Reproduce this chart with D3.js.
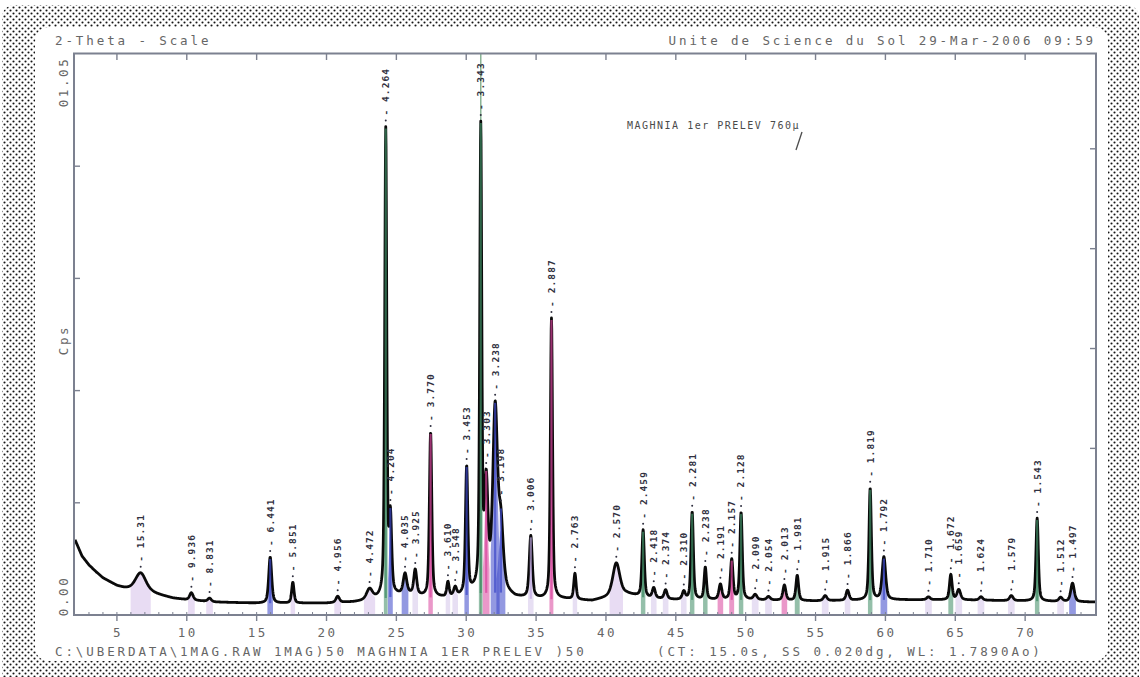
<!DOCTYPE html>
<html>
<head>
<meta charset="utf-8">
<script src="https://cdn.jsdelivr.net/npm/d3@7"></script>
<style>
  html, body { margin: 0; padding: 0; background: #fff; }
  svg { display: block; }
  text { font-family: "DejaVu Sans Mono", "Liberation Mono", monospace; }
</style>
</head>
<body>
<svg id="chart" width="1140" height="677"></svg>
<script>
// Powder XRD scan, Co K-alpha (1.7890 A), 2-theta 2..75 deg, step 0.02 deg.

// Background level (counts) at selected 2-theta positions
const bgTheta  = [2.0, 2.5, 3.0, 3.5, 4.0, 4.5, 5.0, 5.5, 6.0, 7.5, 8.0, 9.0, 10, 12, 15, 20, 22, 23.5, 25, 26, 27, 28.5, 29.5, 30.5, 32.5, 33.5, 35.5, 37, 39, 40, 41.5, 43, 45, 50, 55, 60, 65, 70, 75];
const bgCounts = [134, 105, 89, 77, 66, 59, 52, 48, 45, 39, 36, 30, 27, 23, 21, 21, 23, 27, 34, 36, 32, 30, 32, 39, 40, 30, 28, 28, 25, 30, 37, 30, 27, 27, 25, 27, 27, 25, 23];

// Reflections: position (2-theta), height above background, FWHM, phase, d-spacing label
const peakTheta  = [6.70, 10.33, 11.63, 15.97, 17.59, 20.80, 23.08, 24.24, 24.57, 25.62, 26.35, 27.45, 28.69, 29.21, 30.03, 31.04, 31.43, 32.07, 32.48, 34.62, 36.10, 37.78, 40.74, 42.66, 43.42, 44.27, 45.57, 46.17, 47.11, 48.19, 49.00, 49.67, 50.68, 51.63, 52.77, 53.69, 55.69, 57.29, 58.91, 59.89, 63.08, 64.68, 65.25, 66.84, 69.01, 70.86, 72.54, 73.39];
const peakHeight = [33, 13, 6, 82, 37, 11, 19, 832, 135, 36, 44, 293, 26, 15, 225, 820, 185, 320, 110, 110, 500, 46, 59, 119, 18, 16, 14, 156, 57, 27, 71, 155, 9, 6, 27, 45, 9, 18, 199, 76, 5, 45, 18, 6, 9, 148, 7, 33];
const peakWidth  = [0.9, 0.3, 0.3, 0.25, 0.2, 0.3, 0.5, 0.17, 0.22, 0.3, 0.25, 0.2, 0.2, 0.25, 0.2, 0.17, 0.3, 0.4, 0.4, 0.25, 0.18, 0.2, 0.6, 0.2, 0.25, 0.25, 0.25, 0.2, 0.2, 0.25, 0.22, 0.2, 0.3, 0.3, 0.25, 0.22, 0.3, 0.25, 0.2, 0.3, 0.3, 0.22, 0.3, 0.3, 0.3, 0.2, 0.3, 0.3];
const peakPhase  = ["clay", "clay", "clay", "feldspar", "clay", "clay", "clay", "quartz", "feldspar", "feldspar", "other", "dolomite", "other", "other", "feldspar", "quartz", "dolomite", "feldspar", "feldspar", "other", "dolomite", "other", "clay", "quartz", "other", "other", "other", "quartz", "quartz", "dolomite", "dolomite", "quartz", "other", "other", "dolomite", "quartz", "other", "other", "quartz", "feldspar", "other", "quartz", "other", "other", "other", "quartz", "other", "feldspar"];
const peakLabel  = ["15.31", "9.936", "8.831", "6.441", "5.851", "4.956", "4.472", "4.264", "4.204", "4.035", "3.925", "3.770", "3.610", "3.548", "3.453", "3.343", "3.303", "3.238", "3.198", "3.006", "2.887", "2.763", "2.570", "2.459", "2.418", "2.374", "2.310", "2.281", "2.238", "2.191", "2.157", "2.128", "2.090", "2.054", "2.013", "1.981", "1.915", "1.866", "1.819", "1.792", "1.710", "1.672", "1.659", "1.624", "1.579", "1.543", "1.512", "1.497"];

const phaseNames   = ["quartz", "dolomite", "feldspar", "clay", "other"];
const phaseColors  = ["#3d8a63", "#d9439c", "#3a46c8", "#b48ad8", "#b9a2dc"];
const phaseOpacity = [0.55, 0.55, 0.55, 0.3, 0.35];

const xTickValues     = [5, 10, 15, 20, 25, 30, 35, 40, 45, 50, 55, 60, 65, 70];
const yTickValues     = [200, 400, 600, 800];
const rightTickValues = [297, 475, 653, 831];
const yAxisTop    = "01.05";
const yAxisBottom = "0.00";
const yAxisTitle  = "Cps";

const headerLeft  = "2-Theta - Scale";
const headerRight = "Unite de Science du Sol 29-Mar-2006 09:59";
const sampleNote  = "MAGHNIA 1er PRELEV 760\u00b5";
const footerFile  = "C:\\UBERDATA\\1MAG.RAW 1MAG)50 MAGHNIA 1ER PRELEV )50";
const footerScan  = "(CT: 15.0s, SS 0.020dg, WL: 1.7890Ao)";

const W = 1140, H = 677;
const svg = d3.select("#chart");

// ---------- stippled paper border ----------
const defs = svg.append("defs");
const pat = defs.append("pattern").attr("id", "stipple")
  .attr("width", 6).attr("height", 6).attr("patternUnits", "userSpaceOnUse");
pat.append("circle").attr("cx", 1.5).attr("cy", 1.5).attr("r", 1.05).attr("fill", "#141414");
pat.append("circle").attr("cx", 4.5).attr("cy", 4.5).attr("r", 1.05).attr("fill", "#141414");

function roundRect(x0, y0, x1, y1, r) {
  return `M${x0 + r},${y0}H${x1 - r}Q${x1},${y0} ${x1},${y0 + r}V${y1 - r}Q${x1},${y1} ${x1 - r},${y1}H${x0 + r}Q${x0},${y1} ${x0},${y1 - r}V${y0 + r}Q${x0},${y0} ${x0 + r},${y0}Z`;
}
svg.append("rect").attr("width", W).attr("height", H).attr("fill", "#fff");
svg.append("path")
  .attr("d", roundRect(2, 5, 1139, 690, 14) + roundRect(35, 27, 1108, 661, 16))
  .attr("fill", "url(#stipple)").attr("fill-rule", "evenodd");

// ---------- scales ----------
const x = d3.scaleLinear().domain([2, 75]).range([75, 1095]);
const y = d3.scaleLinear().domain([0, 1000]).range([615, 54]);

const frameColor = "#7c8190";
const textColor = "#666";

// ---------- pattern model ----------
const bg = d3.scaleLinear().domain(bgTheta).range(bgCounts).clamp(true);
const peaks = peakTheta.map((t, i) => ({
  t, h: peakHeight[i], w: peakWidth[i], phase: peakPhase[i], label: peakLabel[i]
}));
function profile(p, t) {
  const u = (t - p.t) / p.w;
  const lor = 1 / (1 + 4 * u * u);
  const gau = Math.exp(-4 * Math.LN2 * u * u);
  return p.h * (0.5 * lor + 0.5 * gau);
}
function countsAt(t) {
  let c = bg(t);
  for (const p of peaks) c += profile(p, t);
  return c;
}
const grid = d3.range(2, 75.0001, 0.02);
const trace = grid.map(t => ({ t, c: countsAt(t) }));

defs.append("clipPath").attr("id", "plotClip")
  .append("rect").attr("x", 75).attr("y", 54).attr("width", 1020).attr("height", 561);

const plot = svg.append("g").attr("clip-path", "url(#plotClip)");
const color = d3.scaleOrdinal().domain(phaseNames).range(phaseColors);
const opacity = d3.scaleOrdinal().domain(phaseNames).range(phaseOpacity);

// phase shading under each reflection
peaks.forEach(p => {
  const span = d3.range(p.t - 0.8 * p.w, p.t + 0.8 * p.w + 1e-9, 0.01);
  const area = d3.area()
    .x(t => x(t))
    .y0(y(0))
    .y1(t => y(bg(t) + profile(p, t)));
  plot.append("path").datum(span).attr("d", area)
    .attr("fill", color(p.phase)).attr("fill-opacity", opacity(p.phase));
});

// strongest quartz reference line to full scale
plot.append("line")
  .attr("x1", x(peakTheta[15])).attr("x2", x(peakTheta[15]))
  .attr("y1", y(0)).attr("y2", y(1000))
  .attr("stroke", "#6aa07a").attr("stroke-width", 1.5).attr("stroke-opacity", 0.8);

// measured trace
const line = d3.line().x(d => x(d.t)).y(d => y(d.c));
plot.append("path").datum(trace).attr("d", line)
  .attr("fill", "none").attr("stroke", "#0a0a0a").attr("stroke-width", 2.8)
  .attr("stroke-linejoin", "round");

// phase sticks over the stronger reflections
peaks.filter(p => p.h > 60).forEach(p => {
  plot.append("line")
    .attr("x1", x(p.t)).attr("x2", x(p.t))
    .attr("y1", y(bg(p.t))).attr("y2", y(countsAt(p.t)) + 2)
    .attr("stroke", color(p.phase)).attr("stroke-width", 2.2).attr("stroke-opacity", 0.7);
});

// ---------- d-spacing labels ----------
const labels = svg.append("g").attr("fill", "#303040")
  .attr("font-size", 9.5).attr("font-weight", "bold").attr("letter-spacing", 1.1);
peaks.forEach(p => {
  const px = x(p.t), py = y(countsAt(p.t));
  labels.append("circle").attr("cx", px).attr("cy", py - 6).attr("r", 1);
  labels.append("text")
    .attr("transform", `translate(${px + 3.4},${py - 11}) rotate(-90)`)
    .text("- " + p.label);
});

// ---------- frame and axes ----------
const axes = svg.append("g").attr("stroke", frameColor).attr("fill", "none");
axes.append("rect").attr("x", 74).attr("y", 53.5).attr("width", 1022).attr("height", 561.5)
  .attr("stroke-width", 2);

// minor 2-theta ticks (1 deg) on the bottom edge
d3.range(3, 75, 1).forEach(t => {
  axes.append("line").attr("x1", x(t)).attr("x2", x(t))
    .attr("y1", y(0)).attr("y2", y(0) - 3).attr("stroke-width", 1);
});
// major ticks bottom (outward) and top (inward)
xTickValues.forEach(t => {
  axes.append("line").attr("x1", x(t)).attr("x2", x(t))
    .attr("y1", y(0)).attr("y2", y(0) + 6).attr("stroke-width", 1.4);
  axes.append("line").attr("x1", x(t)).attr("x2", x(t))
    .attr("y1", 54).attr("y2", 60).attr("stroke-width", 1.4);
});
yTickValues.forEach(v => {
  axes.append("line").attr("x1", 74).attr("x2", 80)
    .attr("y1", y(v)).attr("y2", y(v)).attr("stroke-width", 1.4);
});
rightTickValues.forEach(v => {
  axes.append("line").attr("x1", 1096).attr("x2", 1090)
    .attr("y1", y(v)).attr("y2", y(v)).attr("stroke-width", 1.4);
});

// tick labels
const txt = svg.append("g").attr("fill", textColor).attr("font-size", 12.5).attr("letter-spacing", 2.4);
xTickValues.forEach(t => {
  txt.append("text").attr("x", x(t) + 1).attr("y", 637).attr("text-anchor", "middle").text(t);
});

// rotated y-axis texts
const yTxt = svg.append("g").attr("fill", textColor).attr("font-size", 12.5).attr("letter-spacing", 2.6);
[[yAxisTop, 82], [yAxisTitle, 340], [yAxisBottom, 596]].forEach(([s, cy]) => {
  yTxt.append("text")
    .attr("transform", `translate(68,${cy}) rotate(-90)`)
    .attr("text-anchor", "middle").text(s);
});

// header and footer lines
const hdr = svg.append("g").attr("fill", textColor).attr("font-size", 12.5).attr("letter-spacing", 2.9);
hdr.append("text").attr("x", 55).attr("y", 45).text(headerLeft);
hdr.append("text").attr("x", 1096).attr("y", 45).attr("text-anchor", "end").text(headerRight);
hdr.append("text").attr("x", 55).attr("y", 656).text(footerFile);
hdr.append("text").attr("x", 657).attr("y", 656).text(footerScan);

// sample note
svg.append("text").attr("x", 627).attr("y", 129)
  .attr("fill", "#4a4a4a").attr("font-size", 10).attr("letter-spacing", 1.5)
  .text(sampleNote);
svg.append("line").attr("x1", 802).attr("y1", 132).attr("x2", 796).attr("y2", 150)
  .attr("stroke", "#4a4a4a").attr("stroke-width", 1.3);
</script>
</body>
</html>
